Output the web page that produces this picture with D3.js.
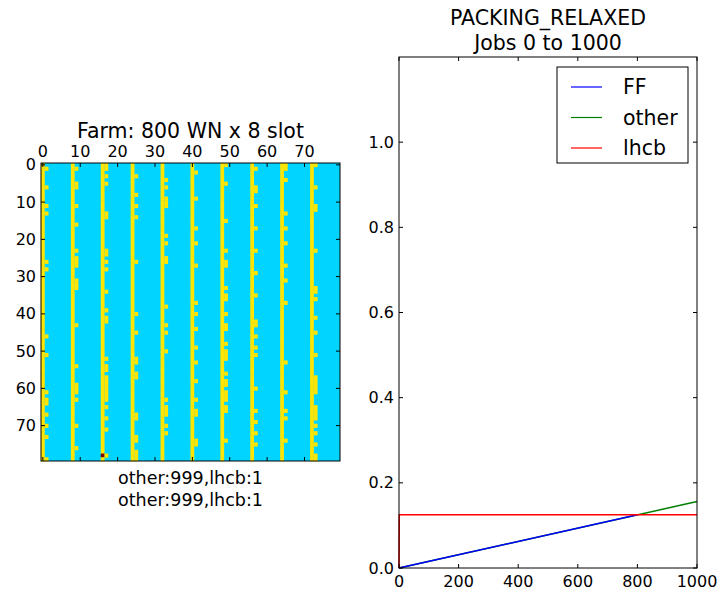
<!DOCTYPE html>
<html>
<head>
<meta charset="utf-8">
<script src="https://cdn.jsdelivr.net/npm/d3@7/dist/d3.min.js"></script>
<style>
  body { margin: 0; background: #fff; }
  svg text { font-family: "DejaVu Sans", sans-serif; fill: #000; }
</style>
</head>
<body>
<svg id="chart" width="724" height="591"></svg>
<script>
// farm layout: 80 rows x 80 columns, each WN owns 8 columns
var nRows = 80, nCols = 80;
var wnStarts = [0, 8, 16, 24, 32, 40, 48, 56, 64, 72];

// rows where the second slot of a WN is busy, one array per WN column group
var extra0  = [1, 6, 11, 13, 26, 28, 46, 51, 61, 63, 64, 67, 70, 73, 79];
var extra8  = [1, 5, 6, 11, 16, 23, 25, 26, 27, 31, 32, 33, 43, 54, 59, 60, 61, 63, 70, 76];
var extra16 = [0, 1, 3, 5, 13, 14, 23, 24, 26, 28, 34, 39, 41, 42, 52, 54, 55, 57, 58, 59, 60, 61, 62, 63, 65, 68, 71, 78];
var extra24 = [3, 8, 11, 14, 26, 40, 45, 52, 53, 56, 57, 67, 68, 73, 74, 77, 78, 79];
var extra32 = [4, 6, 9, 10, 11, 19, 21, 25, 26, 38, 43, 45, 50, 63, 65, 66, 67, 70, 72];
var extra40 = [2, 9, 17, 21, 27, 37, 40, 44, 49, 53, 58, 63, 66, 67, 74, 75];
var extra48 = [0, 5, 15, 23, 26, 27, 33, 35, 36, 40, 43, 44, 48, 50, 51, 52, 56, 58, 59, 61, 62, 63, 65, 66, 74];
var extra56 = [1, 6, 7, 11, 17, 23, 29, 35, 42, 43, 46, 49, 51, 60, 66, 69, 72, 75];
var extra64 = [0, 1, 4, 13, 17, 21, 27, 31, 37, 53, 61, 66, 68, 74];
var extra72 = [0, 6, 11, 12, 23, 33, 34, 36, 41, 45, 51, 57, 58, 59, 60, 61, 65, 66, 67, 68, 70, 72, 75, 78, 79];
var extraRows = [extra0, extra8, extra16, extra24, extra32, extra40, extra48, extra56, extra64, extra72];

// the single lhcb job: [row, column]
var lhcbCell = [78, 16];

// time series of the right panel: jobs submitted vs fraction of farm used
var ffJobs = [0, 800];
var ffFrac = [0, 0.125];
var otherJobs = [0, 1000];
var otherFrac = [0, 0.156];
var lhcbJobs = [0, 1, 1000];
var lhcbFrac = [0, 0.125, 0.125];

var seriesNames = ['FF', 'other', 'lhcb'];
var seriesColors = ['#0000ff', '#008000', '#ff0000'];

var xTicksRight = [0, 200, 400, 600, 800, 1000];
var yTicksRight = [0, 0.2, 0.4, 0.6, 0.8, 1.0];
var gridTicks = [0, 10, 20, 30, 40, 50, 60, 70];

var colEmpty = '#00d4ff', colOther = '#ffe500', colLhcb = '#800000';

var svg = d3.select('#chart');

// ---------- left panel: the farm heatmap ----------
var hm = {l: 41, r: 340, t: 163, b: 461};
var gx = d3.scaleLinear().domain([-0.5, nCols - 0.5]).range([hm.l, hm.r]);
var gy = d3.scaleLinear().domain([-0.5, nRows - 0.5]).range([hm.t, hm.b]);

var cells = [];
for (var r = 0; r < nRows; r++) {
    for (var c = 0; c < nCols; c++) {
        var v = 0;
        var g = wnStarts.indexOf(c - c % 8);
        if (c % 8 === 0) v = 1;
        if (c % 8 === 1 && extraRows[g].indexOf(r) >= 0) v = 1;
        if (r === lhcbCell[0] && c === lhcbCell[1]) v = 2;
        cells.push({row: r, col: c, v: v});
    }
}

// background first, then only the busy cells, so there are no seams
svg.append('rect')
    .attr('x', hm.l).attr('y', hm.t)
    .attr('width', hm.r - hm.l).attr('height', hm.b - hm.t)
    .attr('fill', colEmpty);

svg.append('g').selectAll('rect')
    .data(cells.filter(function(d) { return d.v > 0; }))
    .enter()
    .append('rect')
    .attr('x', function(d) { return gx(d.col - 0.5); })
    .attr('y', function(d) { return gy(d.row - 0.5); })
    .attr('width', gx(1) - gx(0))
    .attr('height', gy(1) - gy(0) + 0.4)
    .attr('fill', function(d) { return [colEmpty, colOther, colLhcb][d.v]; });

function frame(x0, y0, x1, y1) {
    svg.append('rect')
        .attr('x', x0).attr('y', y0)
        .attr('width', x1 - x0).attr('height', y1 - y0)
        .attr('fill', 'none').attr('stroke', '#000').attr('stroke-width', 1);
}

// inward pointing ticks like old matplotlib
function inwardAxes(xs, ys, xt, yt, box, xLabelTop, xFmt, yFmt) {
    var tl = 4;
    var g = svg.append('g').attr('stroke', '#000').attr('stroke-width', 1);
    xt.forEach(function(t) {
        var x = xs(t);
        g.append('line').attr('x1', x).attr('x2', x).attr('y1', box.t).attr('y2', box.t + tl);
        g.append('line').attr('x1', x).attr('x2', x).attr('y1', box.b).attr('y2', box.b - tl);
        svg.append('text')
            .attr('x', x)
            .attr('y', xLabelTop ? box.t - 6 : box.b + 19)
            .attr('text-anchor', 'middle')
            .style('font-size', '16px')
            .text(xFmt(t));
    });
    yt.forEach(function(t) {
        var y = ys(t);
        g.append('line').attr('x1', box.l).attr('x2', box.l + tl).attr('y1', y).attr('y2', y);
        g.append('line').attr('x1', box.r).attr('x2', box.r - tl).attr('y1', y).attr('y2', y);
        svg.append('text')
            .attr('x', box.l - 5)
            .attr('y', y)
            .attr('dy', '0.35em')
            .attr('text-anchor', 'end')
            .style('font-size', '16px')
            .text(yFmt(t));
    });
}

frame(hm.l, hm.t, hm.r, hm.b);
inwardAxes(gx, gy, gridTicks, gridTicks, hm, true, d3.format('d'), d3.format('d'));

svg.append('text')
    .attr('x', (hm.l + hm.r) / 2).attr('y', 138)
    .attr('text-anchor', 'middle')
    .style('font-size', '20.5px')
    .text('Farm: 800 WN x 8 slot');

['other:999,lhcb:1', 'other:999,lhcb:1'].forEach(function(s, i) {
    svg.append('text')
        .attr('x', (hm.l + hm.r) / 2).attr('y', 484 + i * 22)
        .attr('text-anchor', 'middle')
        .style('font-size', '17.5px')
        .text(s);
});

// ---------- right panel: fraction vs jobs ----------
var pb = {l: 399, r: 697, t: 57, b: 568};
var x = d3.scaleLinear().domain([0, 1000]).range([pb.l, pb.r]);
var y = d3.scaleLinear().domain([0, 1.2]).range([pb.b, pb.t]);

var line = d3.line()
    .x(function(d) { return x(d[0]); })
    .y(function(d) { return y(d[1]); });

var series = [
    d3.zip(ffJobs, ffFrac),
    d3.zip(otherJobs, otherFrac),
    d3.zip(lhcbJobs, lhcbFrac)
];

// green drawn first so the blue covers it up to 800 jobs
[1, 0, 2].forEach(function(i) {
    svg.append('path')
        .datum(series[i])
        .attr('d', line)
        .attr('fill', 'none')
        .attr('stroke', seriesColors[i])
        .attr('stroke-width', 1.5);
});

frame(pb.l, pb.t, pb.r, pb.b);
inwardAxes(x, y, xTicksRight, yTicksRight, pb, false, d3.format('d'), d3.format('.1f'));

svg.append('text')
    .attr('x', (pb.l + pb.r) / 2).attr('y', 25)
    .attr('text-anchor', 'middle')
    .style('font-size', '20.5px')
    .text('PACKING_RELAXED');
svg.append('text')
    .attr('x', (pb.l + pb.r) / 2).attr('y', 50)
    .attr('text-anchor', 'middle')
    .style('font-size', '20.5px')
    .text('Jobs 0 to 1000');

// legend
var lg = svg.append('g').attr('transform', 'translate(557,67)');
lg.append('rect')
    .attr('width', 131).attr('height', 96)
    .attr('fill', '#fff').attr('stroke', '#000').attr('stroke-width', 1);
seriesNames.forEach(function(n, i) {
    var ly = 20 + i * 30.5;
    lg.append('line')
        .attr('x1', 14).attr('x2', 45)
        .attr('y1', ly).attr('y2', ly)
        .attr('stroke', seriesColors[i]).attr('stroke-width', 1.2);
    lg.append('text')
        .attr('x', 66).attr('y', ly)
        .attr('dy', '0.35em')
        .style('font-size', '20.5px')
        .text(n);
});
</script>
</body>
</html>
